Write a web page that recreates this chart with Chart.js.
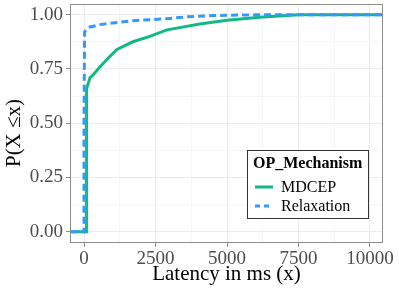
<!DOCTYPE html>
<html>
<head>
<meta charset="utf-8">
<script src="https://cdn.jsdelivr.net/npm/chart.js@4"></script>
<style>
  html, body { margin: 0; padding: 0; background: #fff; }
  #wrap { width: 399px; height: 291px; }
</style>
</head>
<body>
<div id="wrap"><canvas id="cdf"></canvas></div>
<script>
// ECDF (latency ms -> P(X <= x))
const mdcepX = [-490, 80, 80, 100, 140, 210, 300, 560, 850, 1150, 1710, 2300, 2900, 4050, 5000, 6150, 7500, 10455];
const mdcepY = [0, 0, 0.40, 0.66, 0.68, 0.71, 0.72, 0.76, 0.80, 0.84, 0.875, 0.90, 0.93, 0.957, 0.974, 0.988, 0.999, 1.0];
const relaxX = [-490, 0, 0, 20, 70, 210, 560, 910, 1710, 2900, 3600, 4500, 6000, 7500, 10455];
const relaxY = [0, 0, 0.50, 0.92, 0.93, 0.943, 0.954, 0.96, 0.972, 0.981, 0.99, 0.996, 0.999, 1.0, 1.0];
const xTicks = [0, 2500, 5000, 7500, 10000];
const yTicks = [0, 0.25, 0.5, 0.75, 1.0];
const seriesNames = ['MDCEP', 'Relaxation'];
const seriesColors = ['#12B886', '#3399FF'];

const toPts = (xs, ys) => xs.map((x, i) => ({ x: x, y: ys[i] }));
const serif = 'Liberation Serif, Times New Roman, serif';

function withMinor(list) {
  let out = [];
  for (let i = 0; i < list.length; i++) {
    out.push(list[i]);
    if (i < list.length - 1) out.push((list[i] + list[i + 1]) / 2);
  }
  return out;
}
const isMajor = (list, v) => list.some(t => Math.abs(t - v) < 1e-9);

// panel border, y title and legend box inside the plot
const panelStuff = {
  id: 'panelStuff',
  afterDraw(chart) {
    const c = chart.ctx, a = chart.chartArea;
    c.save();
    c.strokeStyle = '#8C8C8C';
    c.lineWidth = 1;
    c.strokeRect(a.left + 0.5, a.top + 0.5, a.right - a.left - 1, a.bottom - a.top - 1);

    // y title
    c.save();
    c.translate(14, 133);
    c.rotate(-Math.PI / 2);
    c.fillStyle = '#000';
    c.font = '21px ' + serif;
    c.textAlign = 'center';
    c.textBaseline = 'middle';
    c.fillText('P(X \u2264x)', 0, 0);
    c.restore();

    const bx = 247.5, by = 150.5, bw = 121, bh = 68;
    c.fillStyle = '#fff';
    c.fillRect(bx, by, bw, bh);
    c.strokeStyle = '#333';
    c.strokeRect(bx, by, bw, bh);
    c.fillStyle = '#000';
    c.font = 'bold 16px ' + serif;
    c.textBaseline = 'middle';
    c.fillText('OP_Mechanism', 253, 164);
    c.font = '16px ' + serif;
    const rows = [187, 206];
    seriesNames.forEach((n, i) => {
      c.strokeStyle = seriesColors[i];
      c.lineWidth = 3;
      c.setLineDash(i === 1 ? [5, 4] : []);
      c.beginPath();
      c.moveTo(255, rows[i]);
      c.lineTo(273, rows[i]);
      c.stroke();
      c.setLineDash([]);
      c.fillStyle = '#000';
      c.fillText(n, 281, rows[i] + 1);
    });
    c.restore();
  }
};

new Chart(document.getElementById('cdf'), {
  type: 'scatter',
  data: {
    datasets: [
      {
        label: seriesNames[0],
        data: toPts(mdcepX, mdcepY),
        showLine: true,
        borderColor: seriesColors[0],
        borderWidth: 3,
        pointRadius: 0,
        tension: 0,
        order: 2
      },
      {
        label: seriesNames[1],
        data: toPts(relaxX, relaxY),
        showLine: true,
        borderColor: seriesColors[1],
        borderWidth: 3,
        borderDash: [7, 4],
        pointRadius: 0,
        tension: 0,
        order: 1
      }
    ]
  },
  options: {
    responsive: true,
    maintainAspectRatio: false,
    animation: false,
    layout: { padding: { top: 4, right: 16, left: 0, bottom: 0 } },
    plugins: { legend: { display: false }, tooltip: { enabled: false } },
    scales: {
      x: {
        type: 'linear',
        min: -490,
        max: 10455,
        afterBuildTicks: s => { s.ticks = withMinor(xTicks).map(v => ({ value: v })); },
        afterFit: s => { s.height = 48; s.paddingLeft = 0; s.paddingRight = 0; },
        ticks: {
          autoSkip: false,
          maxRotation: 0,
          padding: 1,
          color: '#4D4D4D',
          font: { family: serif, size: 19 },
          callback: v => isMajor(xTicks, v) ? String(v) : ''
        },
        grid: {
          color: ctx => ctx.tick && isMajor(xTicks, ctx.tick.value) ? '#EBEBEB' : '#F5F5F5',
          tickColor: ctx => ctx.tick && isMajor(xTicks, ctx.tick.value) ? '#8C8C8C' : 'rgba(0,0,0,0)',
          tickLength: 4
        },
        border: { display: false },
        title: {
          display: true,
          text: 'Latency in ms (x)',
          color: '#000',
          font: { family: serif, size: 21 },
          padding: { top: 0, bottom: 4 }
        }
      },
      y: {
        type: 'linear',
        min: -0.052,
        max: 1.049,
        afterBuildTicks: s => { s.ticks = withMinor(yTicks).map(v => ({ value: v })); },
        afterFit: s => { s.width = 70; s.paddingTop = 0; s.paddingBottom = 0; },
        ticks: {
          autoSkip: false,
          padding: 3,
          color: '#4D4D4D',
          font: { family: serif, size: 19 },
          callback: v => isMajor(yTicks, v) ? v.toFixed(2) : ''
        },
        grid: {
          color: ctx => ctx.tick && isMajor(yTicks, ctx.tick.value) ? '#EBEBEB' : '#F5F5F5',
          tickColor: ctx => ctx.tick && isMajor(yTicks, ctx.tick.value) ? '#8C8C8C' : 'rgba(0,0,0,0)',
          tickLength: 4
        },
        border: { display: false },
        title: { display: false }
      }
    }
  },
  plugins: [panelStuff]
});
</script>
</body>
</html>
